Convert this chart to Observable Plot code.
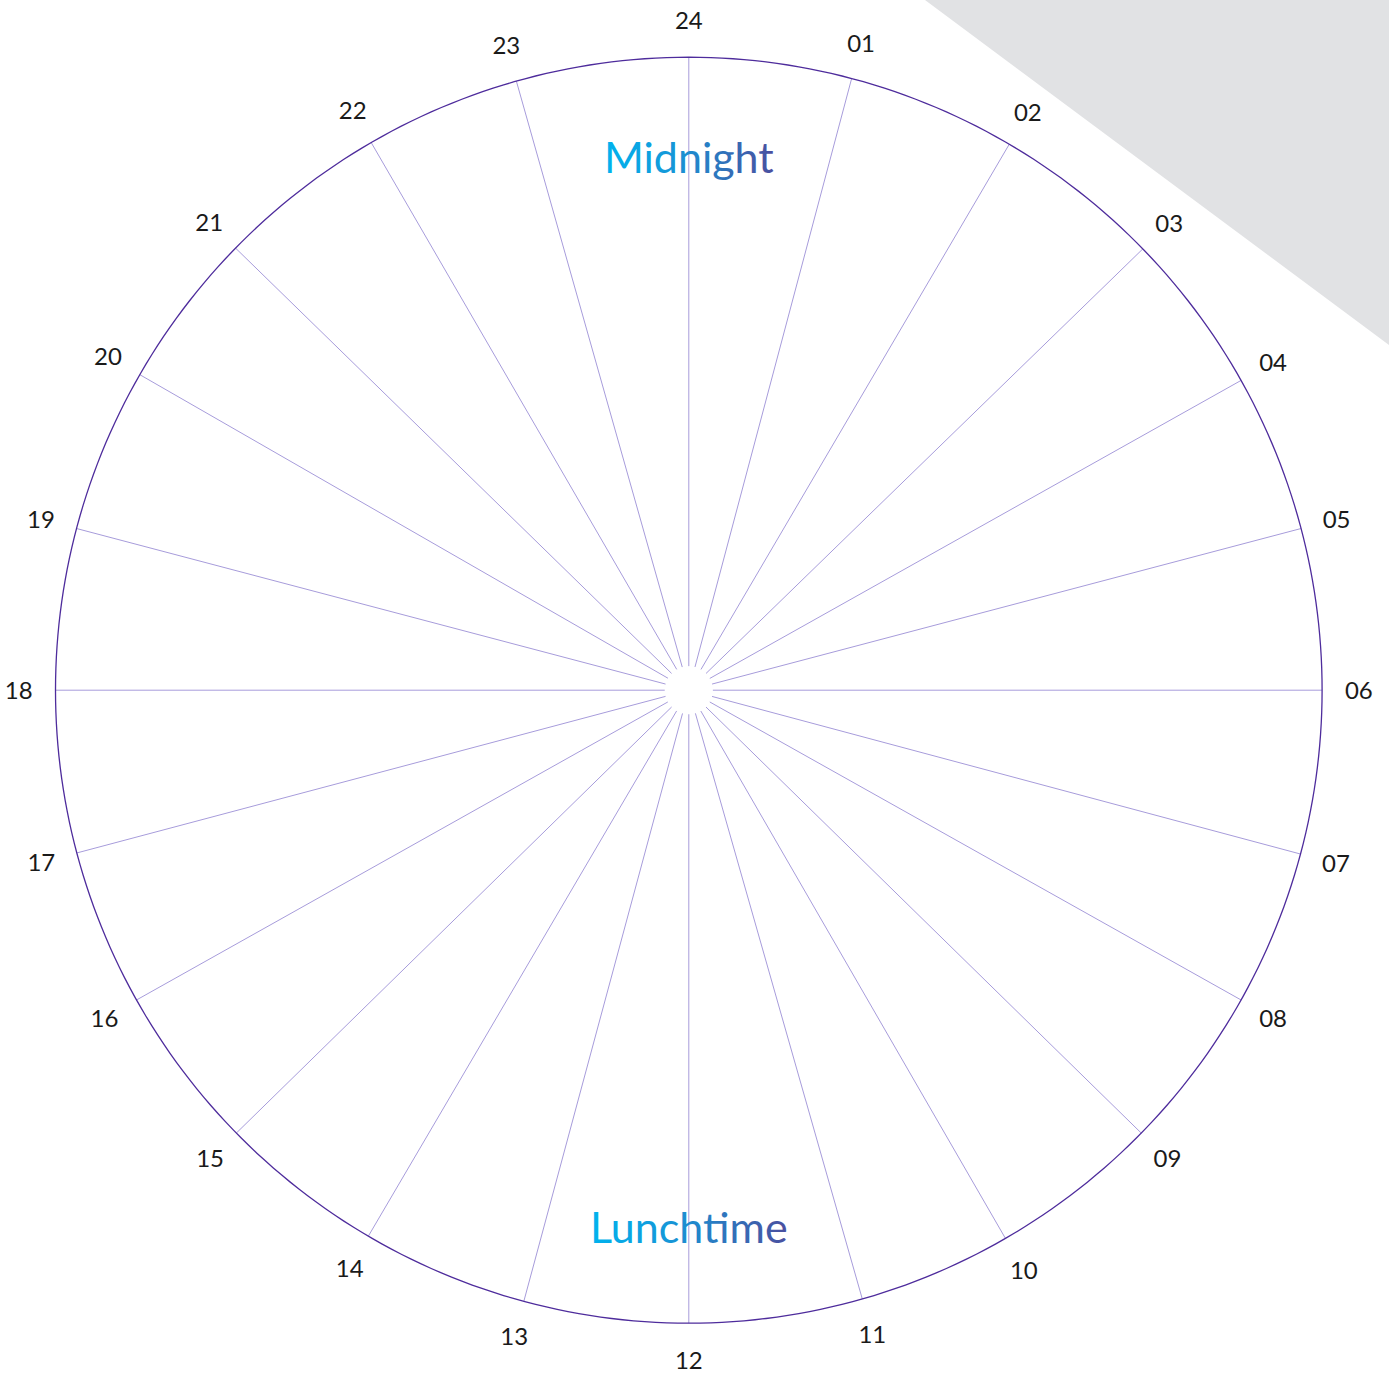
<!DOCTYPE html>
<html><head><meta charset="utf-8">
<script src="https://cdn.jsdelivr.net/npm/d3@7"></script>
<script src="https://cdn.jsdelivr.net/npm/@observablehq/plot@0.6"></script>
<style>
html,body{margin:0;padding:0;background:#fff;}
#wrap{position:relative;width:1389px;height:1375px;overflow:hidden;}
#corner{position:absolute;left:0;top:0;width:1389px;height:1375px;background:#e1e2e4;clip-path:polygon(925px 0,1389px 0,1389px 345px);}
#chart{position:absolute;left:0;top:0;}
</style></head><body>
<div id="wrap"><div id="corner"></div><div id="chart"></div></div>
<script>
// Hour labels around the clock face
const hours = ["24","01","02","03","04","05","06","07","08","09","10","11",
               "12","13","14","15","16","17","18","19","20","21","22","23"];
// Spoke angles (degrees clockwise from top)
const spokeAngles = [0, 14.9, 30.4, 45.8, 60.7, 75.2, 90, 105.0, 119.3, 134.4, 150.0, 164.1,
                     180, 195.1, 210.4, 225.6, 240.7, 255.1, 270, 284.8, 299.9, 314.3, 329.9, 344.2];
// Period annotations and the hour each sits at
const periodLabels = ["Midnight", "Lunchtime"];
const periodHours = ["24", "12"];

const rad = d => d * Math.PI / 180;
const innerR = 0.038, labelR = 1.058, periodR = 0.845;

const spokes = hours.map((h, i) => ({hour: h, angle: spokeAngles[i]}));
const ring = d3.range(0, 361, 1).map(a => ({angle: a}));
const periods = periodLabels.map((t, i) => ({text: t, angle: spokeAngles[hours.indexOf(periodHours[i])]}));

const plot = Plot.plot({
  width: 1389,
  height: 1375,
  margin: 0,
  style: {background: "transparent", overflow: "visible"},
  x: {domain: [-1, 1], range: [55, 1321.6], axis: null},
  y: {domain: [-1, 1], range: [1322.7, 56.7], axis: null},
  marks: [
    Plot.link(spokes, {
      x1: d => innerR * Math.sin(rad(d.angle)),
      y1: d => innerR * Math.cos(rad(d.angle)),
      x2: d => Math.sin(rad(d.angle)),
      y2: d => Math.cos(rad(d.angle)),
      stroke: "#a79cdb",
      strokeWidth: 1
    }),
    Plot.line(ring, {
      x: d => Math.sin(rad(d.angle)),
      y: d => Math.cos(rad(d.angle)),
      stroke: "#4e2c9c",
      strokeWidth: 1.3
    }),
    Plot.text(spokes, {
      x: d => labelR * Math.sin(rad(d.angle)),
      y: d => labelR * Math.cos(rad(d.angle)),
      dy: 1,
      text: "hour",
      fontSize: 24,
      fontFamily: "Lato",
      fontWeight: 400,
      fill: "#1a1a1a",
      textAnchor: "middle",
      lineAnchor: "middle"
    }),
    Plot.text(periods, {
      x: d => periodR * Math.sin(rad(d.angle)),
      y: d => periodR * Math.cos(rad(d.angle)),
      dy: 4,
      text: "text",
      fontSize: 43,
      fontFamily: "Lato",
      fontWeight: 400,
      fill: "url(#periodGrad)",
      textAnchor: "middle",
      lineAnchor: "middle"
    })
  ]
});

const defs = d3.select(plot).insert("defs", ":first-child");
const g = defs.append("linearGradient").attr("id", "periodGrad")
  .attr("x1", "0%").attr("x2", "100%").attr("y1", "0%").attr("y2", "0%");
g.append("stop").attr("offset", "0%").attr("stop-color", "#00b3ee");
g.append("stop").attr("offset", "40%").attr("stop-color", "#1597d8");
g.append("stop").attr("offset", "100%").attr("stop-color", "#4a4f9f");

document.getElementById("chart").appendChild(plot);
</script>
</body></html>
